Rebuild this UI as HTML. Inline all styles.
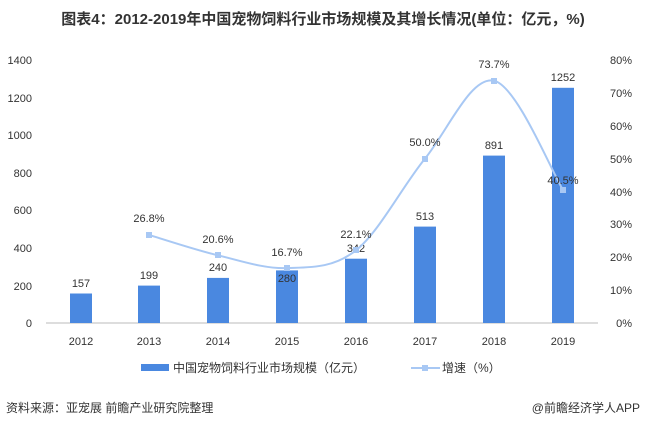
<!DOCTYPE html>
<html><head><meta charset="utf-8"><style>body{margin:0;background:#fff}svg{display:block;font-family:"Liberation Sans","Noto Sans CJK SC",sans-serif}</style></head><body>
<svg width="646" height="429" viewBox="0 0 646 429">
<text x="323" y="24" text-anchor="middle" font-size="15" font-weight="bold" fill="#333">图表4：2012-2019年中国宠物饲料行业市场规模及其增长情况(单位：亿元，%)</text>
<g font-size="11" fill="#333">
<text x="32" y="64" text-anchor="end">1400</text>
<text x="32" y="102" text-anchor="end">1200</text>
<text x="32" y="139" text-anchor="end">1000</text>
<text x="32" y="177" text-anchor="end">800</text>
<text x="32" y="214" text-anchor="end">600</text>
<text x="32" y="252" text-anchor="end">400</text>
<text x="32" y="290" text-anchor="end">200</text>
<text x="32" y="327" text-anchor="end">0</text>
<g text-anchor="end">
<text x="632" y="64">80%</text><text x="632" y="97">70%</text><text x="632" y="130">60%</text><text x="632" y="163">50%</text><text x="632" y="196">40%</text><text x="632" y="228">30%</text><text x="632" y="261">20%</text><text x="632" y="294">10%</text><text x="632" y="327">0%</text>
</g>
<g text-anchor="middle">
<text x="81" y="345">2012</text><text x="149" y="345">2013</text><text x="218" y="345">2014</text><text x="287" y="345">2015</text><text x="356" y="345">2016</text><text x="425" y="345">2017</text><text x="494" y="345">2018</text><text x="563" y="345">2019</text>
</g>
</g>
<line x1="46" y1="323" x2="598" y2="323" stroke="#bbb"/>
<g fill="#4a88e0">
<rect x="70" y="293.5" width="22" height="29.5"/>
<rect x="138" y="285.6" width="22" height="37.4"/>
<rect x="207" y="277.9" width="22" height="45.1"/>
<rect x="276" y="270.4" width="22" height="52.6"/>
<rect x="345" y="258.7" width="22" height="64.3"/>
<rect x="414" y="226.6" width="22" height="96.4"/>
<rect x="483" y="155.6" width="22" height="167.4"/>
<rect x="552" y="87.8" width="22" height="235.2"/>
</g>
<g font-size="11" fill="#333" text-anchor="middle">
<text x="81" y="287">157</text><text x="149" y="279">199</text><text x="218" y="271">240</text><text x="287" y="282">280</text><text x="356" y="252">342</text><text x="425" y="220">513</text><text x="494" y="149">891</text><text x="563" y="81">1252</text>
</g>
<path d="M149,234.9 C160.5,238.3 195,249.8 218,255.3 C241,260.8 264,268.9 287,268.1 C310,267.3 333,268.5 356,250.3 C379,232 402,186.9 425,158.6 C448,130.3 471,75.5 494,80.7 C517,85.9 551.5,171.7 563,189.9" fill="none" stroke="#a8c8f4" stroke-width="2"/>
<g fill="#a8c8f4">
<rect x="146" y="232" width="6" height="6"/><rect x="215" y="252" width="6" height="6"/><rect x="284" y="265" width="6" height="6"/><rect x="353" y="247" width="6" height="6"/><rect x="422" y="156" width="6" height="6"/><rect x="491" y="78" width="6" height="6"/><rect x="560" y="187" width="6" height="6"/>
</g>
<g font-size="11" fill="#333" text-anchor="middle">
<text x="149" y="222">26.8%</text><text x="218" y="243">20.6%</text><text x="287" y="256">16.7%</text><text x="356" y="238">22.1%</text><text x="425" y="146">50.0%</text><text x="494" y="68">73.7%</text><text x="563" y="184">40.5%</text>
</g>
<rect x="141" y="364" width="28" height="7" fill="#4a88e0"/>
<text x="173" y="372" font-size="12" fill="#333">中国宠物饲料行业市场规模（亿元）</text>
<line x1="411" y1="368" x2="440" y2="368" stroke="#a8c8f4" stroke-width="2"/>
<rect x="422" y="365" width="6" height="6" fill="#a8c8f4"/>
<text x="442" y="372" font-size="12" fill="#333">增速（%）</text>
<text x="6" y="412" font-size="12" fill="#333">资料来源：亚宠展 前瞻产业研究院整理</text>
<text x="640" y="412" font-size="12" fill="#333" text-anchor="end">@前瞻经济学人APP</text>
</svg>
</body></html>
